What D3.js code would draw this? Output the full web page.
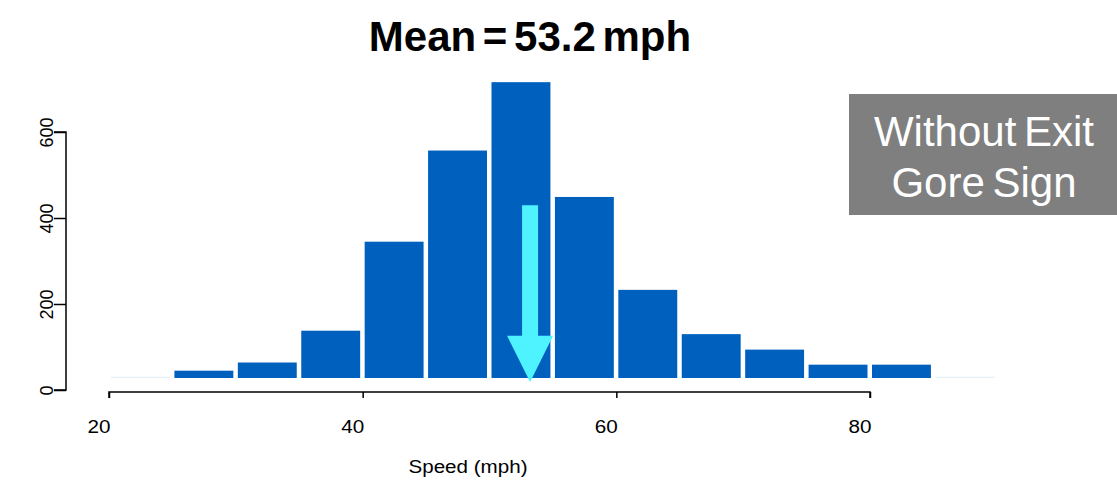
<!DOCTYPE html>
<html>
<head>
<meta charset="utf-8">
<script src="https://cdn.jsdelivr.net/npm/d3@7"></script>
<style>
  html, body { margin: 0; padding: 0; background: #fff; }
  svg { display: block; font-family: "Liberation Sans", Arial, sans-serif; }
</style>
</head>
<body>
<svg id="chart" width="1117" height="481"></svg>
<script>
// ---- data ----
const binStarts = [20, 25, 30, 35, 40, 45, 50, 55, 60, 65, 70, 75, 80, 85];
const binWidth = 5;
const counts = [3, 17, 36, 110, 317, 529, 688, 421, 205, 102, 66, 31, 31, 3];
const xTicks = [20, 40, 60, 80];
const yTicks = [0, 200, 400, 600];
const meanSpeed = 53.2;
const titleText = "Mean = 53.2 mph";
const xLabel = "Speed (mph)";
const boxLines = ["Without Exit", "Gore Sign"];

// ---- drawing ----
const svg = d3.select("#chart");
const x = d3.scaleLinear().domain([20, 80]).range([109, 870]);
const yAxisScale = d3.scaleLinear().domain([0, 600]).range([390, 132]);
const yBar = d3.scaleLinear().domain([0, 600]).range([378, 120]);

const bins = binStarts.map((s, i) => ({ x0: s, x1: s + binWidth, n: counts[i] }));

svg.append("g").selectAll("rect").data(bins).join("rect")
  .attr("x", d => x(d.x0) + 2)
  .attr("width", d => x(d.x1) - x(d.x0) - 4.5)
  .attr("y", d => yBar(d.n))
  .attr("height", d => yBar(0) - yBar(d.n))
  .attr("fill", d => d.n < 10 ? "#e4f1fb" : "#0060be");

// arrow at mean
const ax = x(meanSpeed);
const arrowTopVal = 402, headVal = 98;
const shaftHalf = 8, headHalf = 23;
const aTop = yBar(arrowTopVal), aHead = yBar(headVal), aTip = 382;
svg.append("path")
  .attr("d", `M${ax - shaftHalf},${aTop} L${ax + shaftHalf},${aTop} L${ax + shaftHalf},${aHead} L${ax + headHalf},${aHead} L${ax},${aTip} L${ax - headHalf},${aHead} L${ax - shaftHalf},${aHead} Z`)
  .attr("fill", "#4ff3ff");

// x axis
const gx = svg.append("g").attr("transform", "translate(0,392)")
  .call(d3.axisBottom(x).tickValues(xTicks).tickSize(6).tickPadding(22).tickFormat(d3.format("d")));
gx.select(".domain").attr("stroke", "#000").attr("stroke-width", 1.5).attr("d", `M${x(20)},6V0H${x(80)}V6`);
gx.selectAll(".tick line").attr("stroke", "#000").attr("stroke-width", 1.5);
gx.selectAll(".tick text").attr("font-size", 18).attr("fill", "#000")
  .attr("font-family", "Liberation Sans, Arial, sans-serif")
  .attr("text-anchor", "end").attr("dx", 1)
  .attr("textLength", 23).attr("lengthAdjust", "spacingAndGlyphs");

// y axis
const gy = svg.append("g").attr("transform", "translate(66,0)")
  .call(d3.axisLeft(yAxisScale).tickValues(yTicks).tickSize(12));
gy.select(".domain").attr("stroke", "#000").attr("stroke-width", 1.5)
  .attr("d", `M-12,${yAxisScale(600)}H0V${yAxisScale(0)}H-12`);
gy.selectAll(".tick line").attr("stroke", "#000").attr("stroke-width", 1.5);
gy.selectAll(".tick text").attr("font-size", 18).attr("fill", "#000")
  .attr("font-family", "Liberation Sans, Arial, sans-serif")
  .attr("text-anchor", "middle").attr("dy", 0)
  .attr("x", 0).attr("y", 0)
  .attr("transform", "translate(-13,0) rotate(-90)");

// x label
svg.append("text").attr("x", 468).attr("y", 473).attr("text-anchor", "middle")
  .attr("font-size", 18).attr("fill", "#000")
  .attr("textLength", 119).attr("lengthAdjust", "spacingAndGlyphs").text(xLabel);

// title
svg.append("text").attr("x", 530).attr("y", 51).attr("text-anchor", "middle")
  .attr("font-size", 42).attr("font-weight", "bold").attr("word-spacing", -5)
  .attr("fill", "#000").text(titleText);

// annotation box
svg.append("rect").attr("x", 849).attr("y", 94).attr("width", 268).attr("height", 121).attr("fill", "#7f7f7f");
svg.append("g").selectAll("text").data(boxLines).join("text")
  .attr("x", 984).attr("y", (d, i) => 146 + i * 51)
  .attr("text-anchor", "middle").attr("font-size", 42).attr("word-spacing", -4)
  .attr("fill", "#fff").text(d => d);
</script>
</body>
</html>
